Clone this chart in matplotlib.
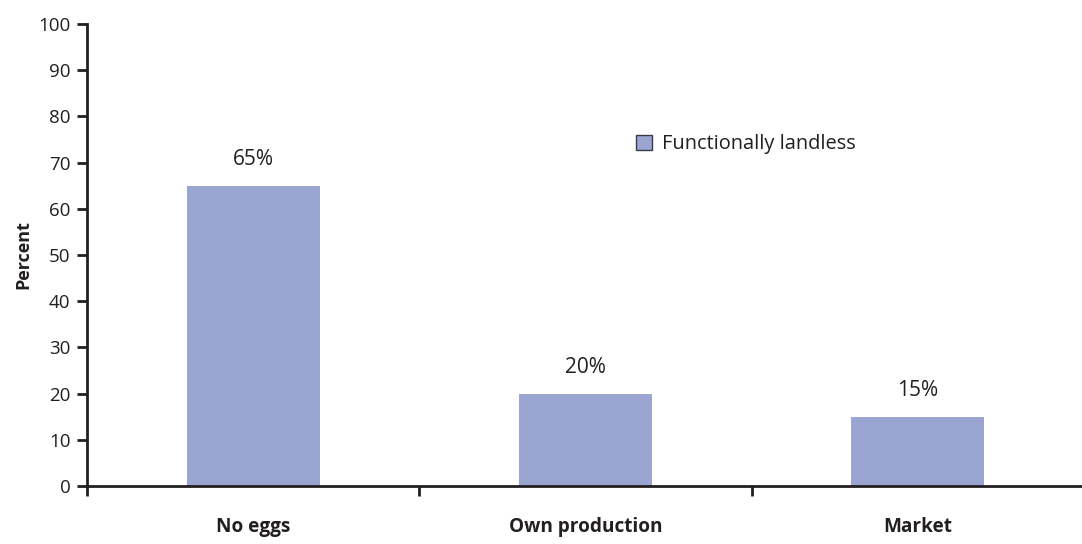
import matplotlib.pyplot as plt
from matplotlib.patches import Patch

categories = ['No eggs', 'Own production', 'Market']
values = [65, 20, 15]
series_name = 'Functionally landless'

plt.rcParams['font.family'] = ['Open Sans', 'DejaVu Sans']
ink = '#231f20'
bar_color = '#9aa5d2'

fig = plt.figure(figsize=(10.82, 5.44), dpi=100)
ax = fig.add_axes([87 / 1082, 58 / 544, 997 / 1082, 462 / 544])

x = list(range(len(categories)))
bars = ax.bar(x, values, width=0.4, color=bar_color, zorder=2)

for b, v in zip(bars, values):
    ax.annotate(f'{v}%', (b.get_x() + b.get_width() / 2, v),
                xytext=(0, 11), textcoords='offset points',
                ha='center', va='bottom', fontsize=15, color=ink)

ax.set_xlim(-0.5, len(categories) - 0.5)
ax.set_ylim(0, 100)
ax.set_yticks(range(0, 101, 10))
ax.tick_params(axis='y', direction='out', length=7, width=2, color=ink,
               labelsize=13.5, labelcolor=ink, pad=5)

# category labels centred, tick marks on the boundaries between categories
ax.set_xticks(x)
ax.set_xticklabels(categories, fontweight='bold', fontsize=13.7, color=ink)
ax.tick_params(axis='x', which='major', length=0, pad=22)
ax.set_xticks([i - 0.5 for i in range(len(categories) + 1)], minor=True)
ax.tick_params(axis='x', which='minor', direction='out', length=7, width=2, color=ink)

for side in ['top', 'right']:
    ax.spines[side].set_visible(False)
for side in ['left', 'bottom']:
    ax.spines[side].set_linewidth(2)
    ax.spines[side].set_color(ink)
ax.spines['bottom'].set_zorder(3)

ax.set_ylabel('Percent', fontweight='bold', fontsize=13, color=ink, labelpad=4)

handle = Patch(facecolor=bar_color, edgecolor='#3a3a4a', linewidth=1)
ax.legend([handle], [series_name], loc='center left', bbox_to_anchor=(0.551, 0.74),
          frameon=False, fontsize=14.4, handlelength=0.8, handleheight=0.8,
          handletextpad=0.5, labelcolor=ink, borderpad=0, borderaxespad=0)

fig.savefig('out.png', dpi=100)
